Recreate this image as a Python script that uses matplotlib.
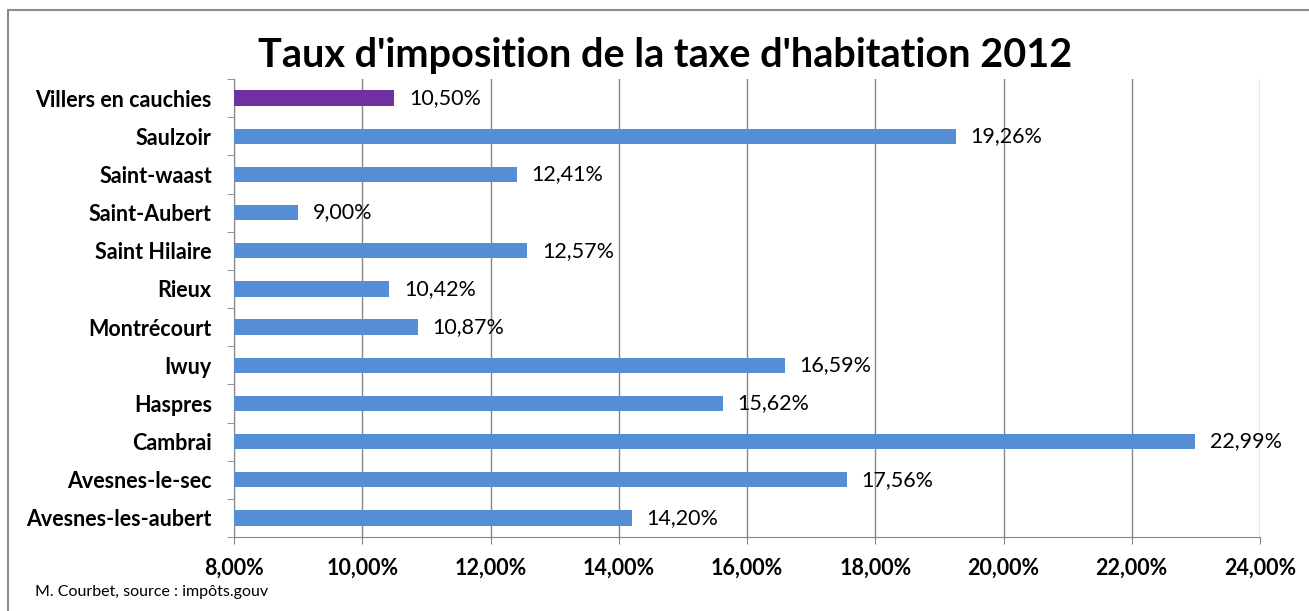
import matplotlib.pyplot as plt
from matplotlib.patches import Rectangle

plt.rcParams['font.family'] = ['Lato', 'DejaVu Sans']

# communes, top to bottom
communes = ["Villers en cauchies", "Saulzoir", "Saint-waast", "Saint-Aubert",
            "Saint Hilaire", "Rieux", "Montrécourt", "Iwuy", "Haspres",
            "Cambrai", "Avesnes-le-sec", "Avesnes-les-aubert"]
taux = [10.50, 19.26, 12.41, 9.00, 12.57, 10.42, 10.87, 16.59, 15.62,
        22.99, 17.56, 14.20]
couleurs = ["#7030A0"] + ["#558ED5"] * 11
ticks_x = [8, 10, 12, 14, 16, 18, 20, 22, 24]

fig = plt.figure(figsize=(13.09, 6.11), dpi=100)
ax = fig.add_axes([234 / 1309, 1 - 537 / 611, (1260 - 234) / 1309, (537 - 79) / 611])

pos = list(range(len(communes)))
ax.barh(pos, [t - 8 for t in taux], left=8, height=0.4, color=couleurs, zorder=3)
for p, t in zip(pos, taux):
    ax.text(t + 0.23, p, ("%.2f%%" % t).replace(".", ","), va="center",
            ha="left", fontsize=15.5, zorder=4)

ax.set_xlim(8, 24)
ax.set_ylim(len(communes) - 0.5, -0.5)
ax.set_xticks(ticks_x)
ax.set_xticklabels([("%.2f%%" % v).replace(".", ",") for v in ticks_x],
                   fontsize=15.5, fontweight="bold")
ax.set_yticks(pos)
ax.set_yticklabels(communes, fontsize=15.5, fontweight="bold")
ax.set_yticks([p - 0.5 for p in pos] + [len(communes) - 0.5], minor=True)
ax.tick_params(axis="y", which="major", length=0, pad=16)
ax.tick_params(axis="y", which="minor", length=5, color="#868686")
ax.tick_params(axis="x", length=5, color="#868686", pad=10)
ax.grid(axis="x", color="#868686", linewidth=1, zorder=0)
for s in ["top", "right"]:
    ax.spines[s].set_visible(False)
for s in ["left", "bottom"]:
    ax.spines[s].set_color("#868686")

fig.text(665 / 1309, 1 - 55 / 611, "Taux d'imposition de la taxe d'habitation 2012",
         ha="center", va="center", fontsize=28.5, fontweight="bold")
fig.text(35 / 1309, 1 - 592 / 611, "M. Courbet, source : impôts.gouv",
         ha="left", va="center", fontsize=11.5)

# chart frame
fig.patches.append(Rectangle((8 / 1309, -0.1), 1.2, 1 - 10 / 611 + 0.1,
                             transform=fig.transFigure, fill=False,
                             edgecolor="#8C8C8C", linewidth=1.5))

fig.savefig("out.png", dpi=100)
